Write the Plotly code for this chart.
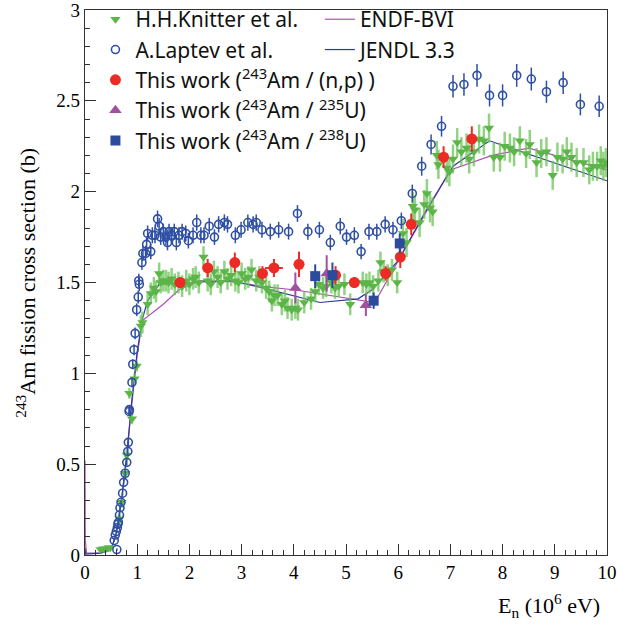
import plotly.graph_objects as go

# H.H.Knitter et al. (neutron energy in MeV, cross section in b, error in b)
knitter_e = [0.30, 0.35, 0.40, 0.45, 0.48, 0.66, 0.70, 0.77, 0.80, 0.85, 0.90, 0.95, 0.99,
             1.07, 1.10, 1.20, 1.26, 1.32, 1.36, 1.42, 1.45, 1.50, 1.55, 1.60, 1.66, 1.72,
             1.79, 1.86, 1.94, 2.00, 2.07, 2.12, 2.18, 2.27, 2.35, 2.41, 2.47, 2.54, 2.60,
             2.67, 2.73, 2.80, 2.88, 2.94, 3.00, 3.07, 3.13, 3.19, 3.28, 3.34, 3.39, 3.47,
             3.53, 3.58, 3.63, 3.69, 3.77, 3.83, 3.88, 3.96, 4.03, 4.08, 4.20, 4.33, 4.41,
             4.48, 4.56, 4.62, 4.72, 4.79, 4.86, 4.97, 5.08, 5.32, 5.39, 5.45, 5.52, 5.62,
             5.66, 5.72, 5.80, 5.88, 5.98, 6.09, 6.16, 6.28, 6.32, 6.41, 6.50, 6.55, 6.61,
             6.66, 6.74, 6.77, 6.93, 6.98, 7.05, 7.13, 7.21, 7.31, 7.36, 7.45, 7.55, 7.64,
             7.74, 7.83, 7.95, 8.04, 8.14, 8.22, 8.33, 8.45, 8.52, 8.65, 8.74, 8.84, 8.96,
             9.05, 9.15, 9.23, 9.32, 9.42, 9.55, 9.66, 9.73, 9.81, 9.88, 9.93, 9.98]
knitter_s = [0.03, 0.035, 0.035, 0.04, 0.04, 0.20, 0.29, 0.45, 0.55, 0.89, 0.75, 0.97, 1.04,
             1.26, 1.28, 1.38, 1.44, 1.47, 1.45, 1.55, 1.50, 1.51, 1.51, 1.50, 1.52, 1.49,
             1.50, 1.48, 1.51, 1.49, 1.52, 1.53, 1.50, 1.64, 1.51, 1.49, 1.56, 1.53, 1.50,
             1.56, 1.52, 1.54, 1.51, 1.50, 1.55, 1.52, 1.53, 1.57, 1.51, 1.53, 1.50, 1.47,
             1.45, 1.40, 1.43, 1.43, 1.38, 1.40, 1.36, 1.35, 1.36, 1.35, 1.39, 1.41, 1.45,
             1.49, 1.47, 1.48, 1.50, 1.47, 1.48, 1.49, 1.38, 1.50, 1.49, 1.50, 1.48, 1.51,
             1.61, 1.56, 1.54, 1.57, 1.50, 1.77, 1.72, 1.92, 1.90, 1.83, 1.93, 1.99, 1.91,
             1.89, 2.20, 2.15, 2.13, 2.11, 2.18, 2.27, 2.22, 2.24, 2.18, 2.22, 2.29, 2.28,
             2.35, 2.19, 2.19, 2.25, 2.24, 2.22, 2.28, 2.21, 2.26, 2.16, 2.21, 2.22, 2.09,
             2.19, 2.18, 2.22, 2.19, 2.16, 2.16, 2.12, 2.14, 2.14, 2.17, 2.14, 2.16]
knitter_err = [0.01] * 5 + [0.03] * 8 + [0.06] * 70 + [0.08] * 56

# A.Laptev et al.
laptev_e = [0.56, 0.58, 0.61, 0.60, 0.62, 0.63, 0.64, 0.66, 0.67, 0.69, 0.72, 0.74, 0.77,
            0.80, 0.82, 0.83, 0.845, 0.85, 0.90, 0.915, 0.94, 0.96, 0.99, 1.02, 1.03, 1.04,
            1.09, 1.11, 1.16, 1.18, 1.20, 1.26, 1.29, 1.34, 1.39, 1.42, 1.45, 1.50, 1.55,
            1.58, 1.61, 1.66, 1.71, 1.75, 1.80, 1.86, 1.93, 1.98, 2.07, 2.14, 2.22, 2.28,
            2.38, 2.48, 2.56, 2.67, 2.73, 2.88, 2.99, 3.12, 3.22, 3.28, 3.39, 3.55, 3.71,
            3.90, 4.07, 4.27, 4.49, 4.70, 4.89, 5.01, 5.16, 5.29, 5.44, 5.59, 5.75, 5.90,
            6.06, 6.27, 6.45, 6.63, 6.83, 7.05, 7.26, 7.51, 7.75, 8.00, 8.27, 8.55, 8.84,
            9.16, 9.49, 9.85]
laptev_s = [0.08, 0.11, 0.03, 0.13, 0.15, 0.17, 0.18, 0.22, 0.26, 0.29, 0.34, 0.40, 0.45,
            0.51, 0.57, 0.62, 0.79, 0.80, 0.95, 1.05, 1.13, 1.22, 1.35, 1.42, 1.51, 1.49,
            1.61, 1.66, 1.66, 1.71, 1.77, 1.67, 1.76, 1.76, 1.85, 1.81, 1.75, 1.78, 1.75,
            1.72, 1.78, 1.76, 1.78, 1.72, 1.76, 1.78, 1.77, 1.73, 1.76, 1.83, 1.76, 1.76,
            1.81, 1.75, 1.82, 1.83, 1.82, 1.76, 1.79, 1.83, 1.82, 1.83, 1.79, 1.78, 1.79,
            1.78, 1.88, 1.78, 1.79, 1.72, 1.81, 1.75, 1.76, 1.67, 1.78, 1.78, 1.82, 1.79,
            1.84, 1.99, 2.14, 2.26, 2.36, 2.58, 2.59, 2.64, 2.53, 2.53, 2.64, 2.62, 2.55,
            2.60, 2.48, 2.47]
laptev_err = [round(0.022 * s + 0.005, 3) for s in laptev_s]

# This work, 243Am / (n,p)
np_e = [1.82, 2.35, 2.87, 3.40, 3.62, 4.10, 4.80, 5.16, 5.76, 6.04, 6.25, 6.87, 7.41]
np_s = [1.50, 1.58, 1.61, 1.55, 1.58, 1.60, 1.54, 1.50, 1.55, 1.64, 1.82, 2.19, 2.29]
np_err = [0.03, 0.05, 0.055, 0.04, 0.05, 0.07, 0.05, 0.03, 0.04, 0.06, 0.06, 0.06, 0.07]
np_xerr = [0.04, 0.03, 0.03, 0.03, 0.17, 0.10, 0.03, 0.03, 0.03, 0.03, 0.03, 0.03, 0.03]

# This work, 243Am / 235U
u235_e = [4.03, 4.63, 5.38]
u235_s = [1.47, 1.55, 1.375]
u235_err = [0.085, 0.10, 0.06]

# This work, 243Am / 238U
u238_e = [4.41, 4.74, 5.53, 6.03]
u238_s = [1.535, 1.54, 1.40, 1.715]
u238_err = [0.065, 0.07, 0.045, 0.055]

# Evaluated data
endf_e = [0.0, 0.005, 0.03, 0.3, 0.5, 0.6, 0.7, 0.8, 0.9, 1.0, 1.1, 1.5, 1.8, 2.2, 2.8,
          3.5, 4.0, 5.55, 6.0, 6.5, 7.0, 7.8, 8.5, 10.0]
endf_s = [0.52, 0.08, 0.01, 0.01, 0.03, 0.12, 0.30, 0.55, 0.84, 1.10, 1.29, 1.38, 1.46,
          1.51, 1.505, 1.475, 1.46, 1.39, 1.62, 1.87, 2.12, 2.20, 2.24, 2.12]
jendl_e = [0.0, 0.01, 0.3, 0.5, 0.6, 0.7, 0.8, 0.9, 1.0, 1.1, 1.2, 1.42, 2.0, 2.8, 3.4,
           4.5, 5.23, 5.5, 6.0, 6.5, 7.05, 7.75, 10.0]
jendl_s = [0.04, 0.005, 0.01, 0.03, 0.12, 0.30, 0.55, 0.86, 1.12, 1.30, 1.40, 1.49, 1.50,
           1.51, 1.47, 1.39, 1.41, 1.46, 1.62, 1.88, 2.14, 2.28, 2.06]

GREEN = "#5cb548"
BLUE = "#2e4fa3"
RED = "#ec2a26"
PURPLE = "#a2519f"
NAVY = "#2c4b9c"

fig = go.Figure()

fig.add_trace(go.Scatter(
    x=endf_e, y=endf_s, mode="lines", name="ENDF-BVI", legend="legend2",
    line=dict(color="#b04fb4", width=1.2)))
fig.add_trace(go.Scatter(
    x=jendl_e, y=jendl_s, mode="lines", name="JENDL 3.3", legend="legend2",
    line=dict(color="#2b3a94", width=1.2)))

fig.add_trace(go.Scatter(
    x=knitter_e, y=knitter_s, mode="markers", name="H.H.Knitter et al.",
    marker=dict(symbol="triangle-down", size=9, color=GREEN),
    error_y=dict(type="data", array=knitter_err, color="rgba(110,195,90,0.75)",
                 thickness=2.5, width=0)))
fig.add_trace(go.Scatter(
    x=laptev_e, y=laptev_s, mode="markers", name="A.Laptev et al.",
    marker=dict(symbol="circle-open", size=8, color=BLUE, line=dict(width=1.6)),
    error_y=dict(type="data", array=laptev_err, color=BLUE, thickness=1.5, width=0)))
fig.add_trace(go.Scatter(
    x=np_e, y=np_s, mode="markers", name="This work (<sup>243</sup>Am / (n,p) )",
    marker=dict(symbol="circle", size=11, color=RED),
    error_y=dict(type="data", array=np_err, color=RED, thickness=2, width=0),
    error_x=dict(type="data", array=np_xerr, color=RED, thickness=2, width=0)))
fig.add_trace(go.Scatter(
    x=u235_e, y=u235_s, mode="markers", name="This work (<sup>243</sup>Am / <sup>235</sup>U)",
    marker=dict(symbol="triangle-up", size=11, color=PURPLE),
    error_y=dict(type="data", array=u235_err, color=PURPLE, thickness=2, width=0)))
fig.add_trace(go.Scatter(
    x=u238_e, y=u238_s, mode="markers", name="This work (<sup>243</sup>Am / <sup>238</sup>U)",
    marker=dict(symbol="square", size=10, color=NAVY),
    error_y=dict(type="data", array=u238_err, color=NAVY, thickness=2, width=0)))

tick_font = dict(family="Liberation Serif", size=19, color="black")
legend_font = dict(family="Noto Sans", size=21, color="#111111")

axis_common = dict(ticks="inside", ticklen=11, tickwidth=1, tickcolor="#333",
                   showline=True, linecolor="#333", linewidth=1.2, mirror=True,
                   showgrid=False, zeroline=False, tickfont=tick_font, automargin=False,
                   ticklabeloverflow="allow")

fig.update_layout(
    width=617, height=628,
    margin=dict(l=85, r=10, t=10, b=73, autoexpand=False),
    paper_bgcolor="white", plot_bgcolor="white",
    xaxis=dict(range=[0, 10], dtick=1, tick0=0,
               minor=dict(dtick=0.2, ticks="inside", ticklen=5, tickcolor="#333",
                          showgrid=False),
               **axis_common),
    yaxis=dict(range=[0, 3], dtick=0.5, tick0=0,
               minor=dict(dtick=0.1, ticks="inside", ticklen=5, tickcolor="#333",
                          showgrid=False),
               **axis_common),
    legend=dict(x=0.02, y=1.02, xanchor="left", yanchor="top", bgcolor="rgba(0,0,0,0)",
                font=legend_font, itemwidth=30, traceorder="normal"),
    legend2=dict(x=0.45, y=1.02, xanchor="left", yanchor="top", bgcolor="rgba(0,0,0,0)",
                 font=legend_font, itemwidth=30, traceorder="normal"),
    annotations=[
        dict(text="<sup>243</sup>Am fission cross section (b)", xref="paper", yref="paper",
             x=-0.145, y=0.5, textangle=-90, showarrow=False,
             font=dict(family="Liberation Serif", size=22, color="black")),
        dict(text="E<sub>n</sub> (10<sup>6</sup> eV)", xref="paper", yref="paper",
             x=0.99, y=-0.092, xanchor="right", yanchor="middle", showarrow=False,
             font=dict(family="Liberation Serif", size=22, color="black")),
    ],
)

fig.write_html("out.html")
